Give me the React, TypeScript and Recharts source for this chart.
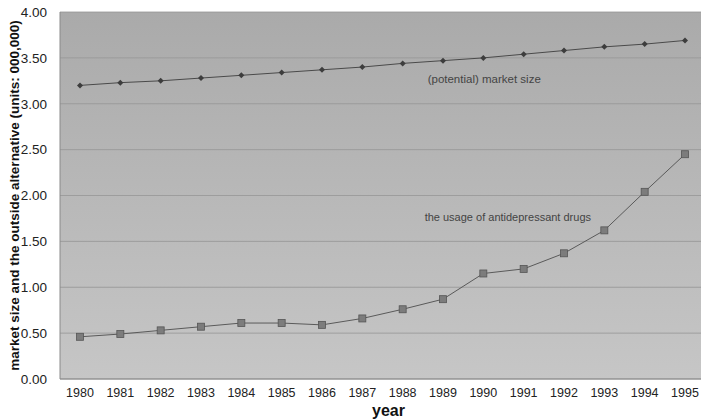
import { CartesianGrid, Label, Line, LineChart, ReferenceDot, XAxis, YAxis } from 'recharts'

const years = ['1980', '1981', '1982', '1983', '1984', '1985', '1986', '1987', '1988', '1989', '1990', '1991', '1992', '1993', '1994', '1995']
const marketSize = [3.2, 3.23, 3.25, 3.28, 3.31, 3.34, 3.37, 3.4, 3.44, 3.47, 3.5, 3.54, 3.58, 3.62, 3.65, 3.69]
const drugUsage = [0.46, 0.49, 0.53, 0.57, 0.61, 0.61, 0.59, 0.66, 0.76, 0.87, 1.15, 1.2, 1.37, 1.62, 2.04, 2.45]
const yTicks = [0, 0.5, 1, 1.5, 2, 2.5, 3, 3.5, 4]

const data = years.map((year, i) => ({ year, market: marketSize[i], usage: drugUsage[i] }))

const FONT = '"Liberation Sans", Arial, sans-serif'

const DiamondDot = (props: any) => {
  const { cx, cy } = props
  if (cx == null || cy == null) return null
  return <path d={`M${cx},${cy - 3}L${cx + 3},${cy}L${cx},${cy + 3}L${cx - 3},${cy}Z`} fill="#3d3d3d" />
}

const SquareDot = (props: any) => {
  const { cx, cy } = props
  if (cx == null || cy == null) return null
  return <rect x={cx - 3.5} y={cy - 3.5} width={7} height={7} fill="#7c7c7c" stroke="#555" strokeWidth={0.8} />
}

export default function App() {
  return (
    <div style={{ position: 'absolute', left: 0, top: 0, background: '#fff' }}>
      <LineChart width={701} height={420} data={data} margin={{ top: 12, right: 0, bottom: 4, left: 0 }}>
        <defs>
          <linearGradient id="plotBg" x1="0" y1="0" x2="0" y2="1">
            <stop offset="0%" stopColor="#aaaaaa" />
            <stop offset="100%" stopColor="#c6c6c6" />
          </linearGradient>
        </defs>
        <CartesianGrid vertical={false} stroke="#959595" strokeWidth={0.8} fill="url(#plotBg)" />
        <XAxis
          dataKey="year"
          tickLine={false}
          axisLine={{ stroke: '#8a8a8a' }}
          tick={{ fill: '#222', fontSize: 12.5, fontFamily: FONT }}
          tickMargin={3}
          height={37}
          interval={0}
          padding={{ left: 20, right: 16 }}
        >
          <Label value="year" position="insideBottom" offset={0} dx={8} style={{ fill: '#111', fontSize: 16, fontWeight: 'bold', fontFamily: FONT }} />
        </XAxis>
        <YAxis
          domain={[0, 4]}
          ticks={yTicks}
          tickFormatter={(v: number) => v.toFixed(2)}
          tickLine={false}
          axisLine={{ stroke: '#8a8a8a' }}
          tick={{ fill: '#222', fontSize: 13.5, fontFamily: FONT }}
          tickMargin={7}
          width={60}
        >
          <Label
            value="market size and the outside alternative (units: 000,000)"
            angle={-90}
            position="insideLeft"
            offset={14}
            style={{ textAnchor: 'middle', fill: '#111', fontSize: 13.5, fontWeight: 'bold', fontFamily: FONT }}
          />
        </YAxis>
        <Line dataKey="market" stroke="#4a4a4a" strokeWidth={1} dot={<DiamondDot />} isAnimationActive={false} />
        <Line dataKey="usage" stroke="#5a5a5a" strokeWidth={1} dot={<SquareDot />} isAnimationActive={false} />
        <ReferenceDot x="1988" y={3.27} r={0} ifOverflow="visible">
          <Label value="(potential) market size" position="right" offset={25} style={{ fill: '#444', fontSize: 11.5, fontFamily: FONT }} />
        </ReferenceDot>
        <ReferenceDot x="1988" y={1.77} r={0} ifOverflow="visible">
          <Label value="the usage of antidepressant drugs" position="right" offset={22} style={{ fill: '#444', fontSize: 11, fontFamily: FONT }} />
        </ReferenceDot>
      </LineChart>
    </div>
  )
}
